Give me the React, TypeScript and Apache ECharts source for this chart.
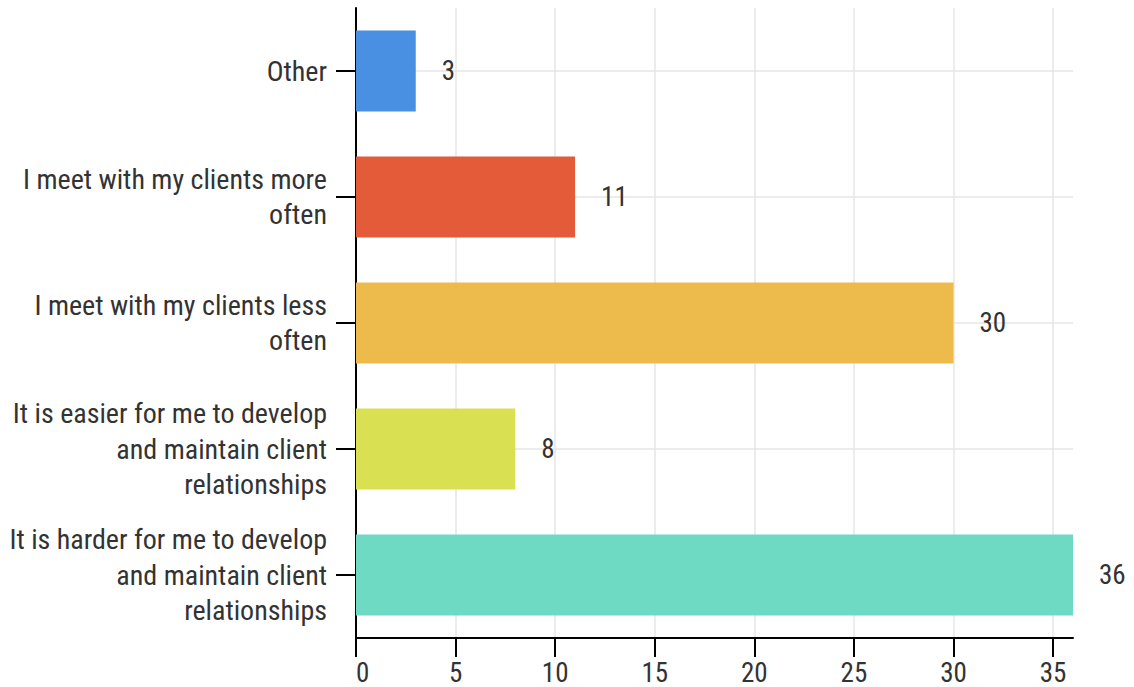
import React, { useEffect, useRef } from "react";
import * as echarts from "echarts";

const categories = [
  "It is harder for me to develop\nand maintain client\nrelationships",
  "It is easier for me to develop\nand maintain client\nrelationships",
  "I meet with my clients less\noften",
  "I meet with my clients more\noften",
  "Other",
];
const values = [36, 8, 30, 11, 3];
const colors = ["#6fdac3", "#d9e052", "#ecbb4c", "#e35b38", "#4a90e2"];
const xTicks = [0, 5, 10, 15, 20, 25, 30, 35];

const FONT = "'Roboto Condensed', 'Liberation Sans Narrow', 'DejaVu Sans Condensed', Roboto, sans-serif";

export default function App() {
  const ref = useRef<HTMLDivElement>(null);
  useEffect(() => {
    document.body.style.margin = "0";
    const chart = echarts.init(ref.current!, null, { renderer: "svg" });
    chart.setOption({
      animation: false,
      grid: { left: 356, right: 61, top: 8, bottom: 49, containLabel: false },
      xAxis: {
        type: "value",
        min: 0,
        max: 36,
        interval: 5,
        axisLine: { show: true, lineStyle: { color: "#000", width: 2 } },
        axisTick: { show: true, length: 19, lineStyle: { color: "#000", width: 2 }, customValues: xTicks },
        axisLabel: {
          customValues: xTicks,
          fontFamily: FONT,
          fontSize: 27,
          color: "#333",
          margin: 21,
          alignMinLabel: "left",
        },
        splitLine: { show: true, lineStyle: { color: "#e6e6e6", width: 1.5 } },
      },
      yAxis: {
        type: "category",
        data: categories,
        axisLine: { show: true, lineStyle: { color: "#000", width: 2 } },
        axisTick: { show: true, alignWithLabel: true, length: 20, lineStyle: { color: "#000", width: 2 } },
        axisLabel: {
          fontFamily: FONT,
          fontSize: 28,
          color: "#333",
          margin: 29,
          lineHeight: 35.5,
          align: "right",
          padding: [4, 0, 0, 0],
        },
        splitLine: { show: false },
      },
      series: [
        {
          type: "bar",
          data: values.map((v, i) => ({ value: v, itemStyle: { color: colors[i] } })),
          barWidth: 81,
          label: {
            show: true,
            position: "right",
            distance: 26,
            fontFamily: FONT,
            fontSize: 27,
            color: "#333",
          },
          markLine: {
            silent: true,
            symbol: "none",
            label: { show: false },
            lineStyle: { color: "#e6e6e6", width: 1.5, type: "solid" },
            z: 0,
            data: categories.map((c) => ({ yAxis: c })),
          },
        },
      ],
    });
    return () => chart.dispose();
  }, []);
  return <div ref={ref} style={{ width: 1134, height: 687 }} />;
}
